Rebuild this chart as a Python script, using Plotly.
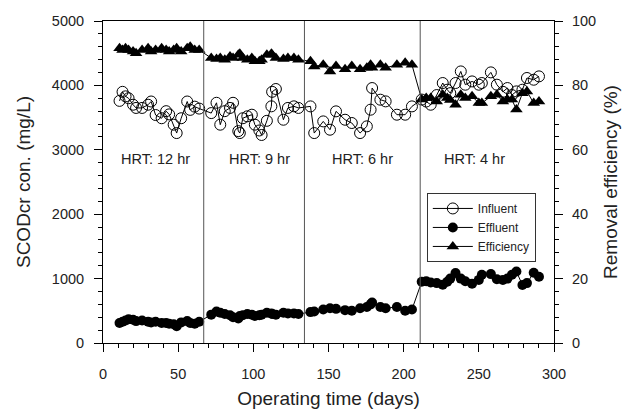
import plotly.graph_objects as go

# Operating days for each HRT phase
days_12hr = [11, 13, 15, 17, 20, 22, 26, 30, 32, 35, 39, 42, 44, 47, 49, 52, 56, 58, 61, 64]
days_9hr = [72, 75.5, 78, 81, 84.5, 86.5, 90, 91, 93, 96, 99, 101, 104, 105.5, 109, 112, 112.5, 115, 120, 123, 127, 130]
days_6hr = [138, 140.5, 146.5, 151, 155, 161, 165.5, 171, 175.5, 178, 179, 184.5, 188, 195.5, 201, 205.5]
days_4hr = [212, 215, 218, 222, 226, 229, 231, 234.5, 238, 241, 245.5, 250, 252, 258, 262, 266, 269, 272, 275, 279, 282, 286.5, 290]

# Influent SCODcr (mg/L)
inf_12hr = [3760, 3900, 3830, 3800, 3700, 3650, 3650, 3700, 3750, 3540, 3490, 3600, 3550, 3390, 3260, 3490, 3750, 3620, 3670, 3640]
inf_9hr = [3570, 3730, 3390, 3600, 3650, 3730, 3290, 3260, 3490, 3520, 3545, 3390, 3300, 3230, 3450, 3675, 3900, 3944, 3467, 3650, 3675, 3650]
inf_6hr = [3674, 3260, 3441, 3312, 3597, 3467, 3416, 3260, 3364, 3623, 3959, 3778, 3752, 3545, 3545, 3674]
inf_4hr = [3780, 3750, 3700, 3850, 4037, 3933, 3880, 4037, 4217, 4011, 4062, 4011, 4037, 4202, 4011, 3900, 3959, 3850, 3907, 3933, 4115, 4088, 4140]

# Effluent SCODcr (mg/L)
eff_12hr = [310, 330, 350, 370, 360, 340, 350, 330, 320, 330, 310, 310, 300, 290, 260, 320, 340, 310, 300, 330]
eff_9hr = [440, 490, 470, 450, 430, 400, 380, 420, 430, 450, 440, 420, 430, 440, 470, 460, 450, 440, 470, 460, 460, 450]
eff_6hr = [480, 490, 520, 540, 530, 510, 500, 540, 560, 600, 630, 560, 540, 560, 500, 520]
eff_4hr = [950, 960, 940, 930, 905, 950, 1000, 1087, 1000, 960, 920, 980, 1060, 1070, 990, 980, 1000, 1060, 1110, 900, 930, 1090, 1030]

# Removal efficiency (%)
rem_12hr = [91.5, 91.0, 91.5, 91.0, 90.5, 90.0, 91.0, 91.5, 90.5, 91.0, 91.5, 91.0, 90.5, 91.0, 91.5, 90.5, 91.5, 92.0, 91.0, 91.0]
rem_9hr = [88.5, 88.2, 88.5, 88.0, 89.0, 88.5, 89.5, 89.8, 88.5, 88.0, 88.5, 87.5, 87.5, 88.0, 89.5, 89.8, 89.5, 88.5, 88.2, 88.5, 88.5, 88.0]
rem_6hr = [87.5, 85.9, 86.4, 84.3, 86.0, 85.0, 86.0, 85.0, 85.5, 86.4, 85.5, 86.4, 85.5, 86.4, 87.0, 86.4]
rem_4hr = [75.6, 76.1, 76.1, 75.0, 77.1, 76.1, 75.5, 74.0, 77.1, 76.1, 76.6, 74.5, 74.5, 76.6, 77.1, 75.0, 75.6, 75.6, 72.5, 77.6, 78.1, 74.5, 75.0]

hrt_boundaries = [67, 134, 211]
hrt_labels = ["HRT: 12 hr", "HRT: 9 hr", "HRT: 6 hr", "HRT: 4 hr"]
hrt_label_x = [35, 104, 172.5, 247]
hrt_label_y = 2850

days = days_12hr + days_9hr + days_6hr + days_4hr
influent = inf_12hr + inf_9hr + inf_6hr + inf_4hr
effluent = eff_12hr + eff_9hr + eff_6hr + eff_4hr
removal = rem_12hr + rem_9hr + rem_6hr + rem_4hr

FONT = "Liberation Sans, Arial, sans-serif"
TXT = "#222222"

fig = go.Figure()
fig.add_trace(go.Scatter(
    x=days, y=influent, name="Influent", mode="lines+markers",
    line=dict(color="black", width=1),
    marker=dict(symbol="circle-open", size=11, color="black", line=dict(width=1)),
))
fig.add_trace(go.Scatter(
    x=days, y=effluent, name="Effluent", mode="lines+markers",
    line=dict(color="black", width=1),
    marker=dict(symbol="circle", size=10, color="black"),
))
fig.add_trace(go.Scatter(
    x=days, y=removal, name="Efficiency", mode="lines+markers", yaxis="y2",
    line=dict(color="black", width=1),
    marker=dict(symbol="triangle-up", size=11, color="black"),
))

for b in hrt_boundaries:
    fig.add_shape(type="line", x0=b, x1=b, y0=0, y1=5000, xref="x", yref="y",
                  line=dict(color="#555555", width=1))

for lx, lt in zip(hrt_label_x, hrt_labels):
    fig.add_annotation(x=lx, y=hrt_label_y, text=lt, showarrow=False,
                       font=dict(size=14.5, color=TXT, family=FONT))

axis_common = dict(
    showgrid=False, zeroline=False, showline=True, linecolor="black", linewidth=1,
    ticks="outside", ticklen=8, tickcolor="black", tickwidth=1,
    tickfont=dict(size=14.5, color=TXT, family=FONT),
    automargin=False,
)

fig.update_layout(
    width=632, height=407,
    margin=dict(l=95, r=86, t=13, b=72),
    paper_bgcolor="white", plot_bgcolor="white",
    font=dict(family=FONT, color=TXT),
    xaxis=dict(
        range=[0, 300], dtick=50, mirror=True, ticklabelstandoff=10,
        minor=dict(dtick=10, ticks="outside", ticklen=4, tickcolor="black"),
        title=dict(text="Operating time (days)", font=dict(size=19, family=FONT), standoff=10),
        **axis_common,
    ),
    yaxis=dict(
        range=[0, 5000], dtick=1000, ticklabelstandoff=7,
        minor=dict(dtick=200, ticks="outside", ticklen=4, tickcolor="black"),
        title=dict(text="SCODcr con. (mg/L)", font=dict(size=19, family=FONT), standoff=16),
        **axis_common,
    ),
    yaxis2=dict(
        range=[0, 100], dtick=20, overlaying="y", side="right", ticklabelstandoff=6,
        minor=dict(dtick=4, ticks="outside", ticklen=4, tickcolor="black"),
        title=dict(text="Removal efficiency (%)", font=dict(size=19, family=FONT), standoff=8),
        **axis_common,
    ),
    showlegend=True,
    legend=dict(
        x=0.718, y=0.466, xanchor="left", yanchor="top",
        bordercolor="#333333", borderwidth=1, bgcolor="white",
        font=dict(size=12, family=FONT, color=TXT),
        itemwidth=40,
    ),
)

fig.write_html("out.html")
